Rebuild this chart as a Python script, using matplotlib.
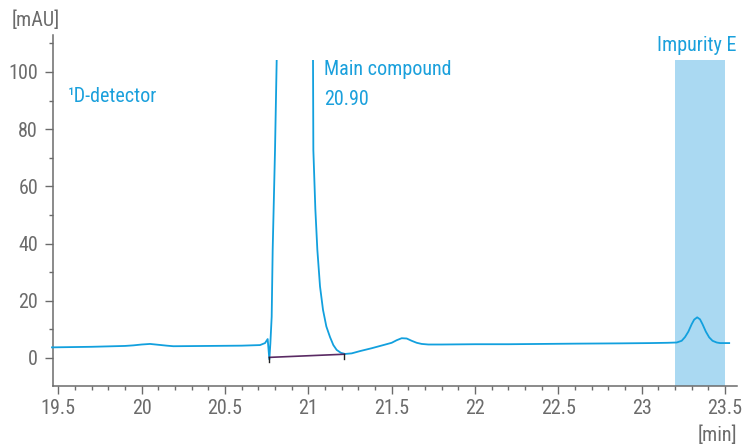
import matplotlib
matplotlib.use("Agg")
import matplotlib.pyplot as plt
from matplotlib import font_manager
from matplotlib.patches import Rectangle
from matplotlib.ticker import MultipleLocator

# ---------------- data ----------------
time_min = [19.462, 19.70, 19.90, 19.95, 20.00, 20.05, 20.10, 20.15, 20.19, 20.40, 20.60,
            20.710, 20.740, 20.756, 20.766, 20.772, 20.780, 20.786, 20.800, 20.810,
            20.815, 20.90,
            21.026, 21.028, 21.030, 21.042, 21.054, 21.070, 21.088, 21.108, 21.130,
            21.150, 21.170, 21.195, 21.220, 21.260, 21.310, 21.380, 21.450, 21.500,
            21.530, 21.560, 21.590, 21.620, 21.650, 21.680, 21.720, 21.800, 22.000,
            22.200, 22.400, 22.600, 22.870, 23.050, 23.155, 23.210, 23.240, 23.260,
            23.280, 23.300, 23.315, 23.333, 23.350, 23.365, 23.385, 23.405, 23.425,
            23.450, 23.470, 23.525]
signal_mau = [3.7, 3.9, 4.2, 4.4, 4.7, 4.9, 4.6, 4.3, 4.1, 4.2, 4.3,
              4.5, 5.2, 6.6, -0.5, 5.0, 14.4, 37.8, 72.7, 104.0,
              130.0, 400.0,
              130.0, 104.0, 72.7, 52.0, 37.8, 25.0, 16.8, 11.0, 7.3,
              4.5, 2.8, 1.8, 1.4, 1.6, 2.4, 3.4, 4.5, 5.3,
              6.2, 6.9, 6.8, 6.0, 5.3, 4.9, 4.7, 4.7, 4.8,
              4.8, 4.9, 5.0, 5.1, 5.2, 5.3, 5.4, 6.0, 7.3,
              9.2, 11.8, 13.4, 14.2, 13.5, 11.8, 9.2, 7.2, 6.0,
              5.4, 5.2, 5.2]

baseline_t = [20.766, 21.216]
baseline_v = [0.2, 1.3]

impurity_window = (23.2, 23.5)
clip_top = 104

x_major = [19.5, 20, 20.5, 21, 21.5, 22, 22.5, 23, 23.5]
x_labels = ["19.5", "20", "20.5", "21", "21.5", "22", "22.5", "23", "23.5"]
y_major = [0, 20, 40, 60, 80, 100]
y_labels = ["0", "20", "40", "60", "80", "100"]

# ---------------- style ----------------
avail = {f.name for f in font_manager.fontManager.ttflist}
fam = [f for f in ["Liberation Sans Narrow", "Roboto Condensed", "Roboto",
                   "Liberation Sans", "DejaVu Sans"] if f in avail]
if "DejaVu Sans" not in fam:
    fam.append("DejaVu Sans")
plt.rcParams['font.family'] = fam

GRAY = "#6b6b6b"
BLUE = "#12a0de"
TEXTBLUE = "#1aa0dc"
BAND = "#aad9f2"

fig = plt.figure(figsize=(7.43, 4.47), dpi=100)
ax = fig.add_axes([0.0709, 0.1365, 0.9915 - 0.0709, 0.9217 - 0.1365])

ax.set_xlim(19.466, 23.57)
ax.set_ylim(-9.8, 112.9)

ax.axvspan(impurity_window[0], impurity_window[1], ymin=0,
           ymax=(clip_top + 9.8) / (112.9 + 9.8), color=BAND, lw=0, zorder=1)

line, = ax.plot(time_min, signal_mau, color=BLUE, lw=1.3, zorder=3,
                solid_joinstyle="round")
clip = Rectangle((19.0, -20), 5.0, clip_top + 20, transform=ax.transData)
line.set_clip_path(clip)

ax.plot(baseline_t, baseline_v, color="#5a2a63", lw=1.2, zorder=4)
for t, v in zip(baseline_t, baseline_v):
    ax.plot([t, t], [v, v - 1.6], color="#222222", lw=1.0, zorder=4)

for s in ["top", "right"]:
    ax.spines[s].set_visible(False)
for s in ["left", "bottom"]:
    ax.spines[s].set_color(GRAY)
    ax.spines[s].set_linewidth(1.1)

ax.set_xticks(x_major)
ax.set_xticklabels(x_labels)
ax.set_yticks(y_major)
ax.set_yticklabels(y_labels)
ax.xaxis.set_minor_locator(MultipleLocator(0.1))
ax.yaxis.set_minor_locator(MultipleLocator(10))
ax.tick_params(axis="both", which="major", length=5.5, width=1.0, color=GRAY,
               labelcolor=GRAY, labelsize=14.5)
ax.tick_params(axis="both", which="minor", length=3, width=1.0, color=GRAY)
ax.tick_params(axis="x", which="major", pad=4)
ax.tick_params(axis="y", which="major", pad=5)

fig.text(0.048, 0.955, "[mAU]", color=GRAY, fontsize=14.5, ha="center", va="center")
fig.text(0.992, 0.027, "[min]", color=GRAY, fontsize=14.5, ha="right", va="center")

ax.text(19.558, 91.3, "\u00b9D-detector", color=TEXTBLUE, fontsize=14.5,
        ha="left", va="center")
ax.text(21.094, 100.7, "Main compound", color=TEXTBLUE, fontsize=14.5,
        ha="left", va="center")
ax.text(21.094, 90.2, "20.90", color=TEXTBLUE, fontsize=14.5, ha="left", va="center")
ax.text(23.33, 109.4, "Impurity E", color=TEXTBLUE, fontsize=14.5, ha="center",
        va="center", clip_on=False)

fig.savefig("out.png", dpi=100)
